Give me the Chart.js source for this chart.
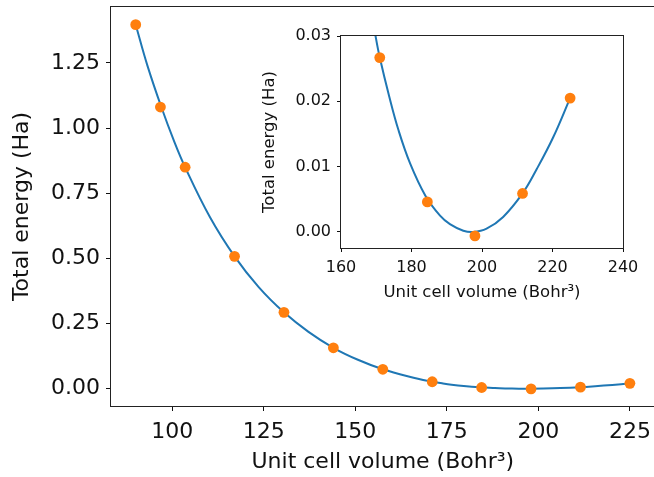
<!DOCTYPE html>
<html>
<head>
<meta charset="utf-8">
<script src="https://cdn.jsdelivr.net/npm/chart.js@4.4.1/dist/chart.umd.min.js"></script>
<style>
  html, body { margin: 0; padding: 0; background: #fff; overflow: hidden; width: 654px; height: 477px; }
  #main { position: absolute; left: 0; top: 0; }
  #inset { position: absolute; left: 250px; top: 0; }
</style>
</head>
<body>
<canvas id="main" width="660" height="477"></canvas>
<canvas id="inset" width="404" height="320"></canvas>
<script>
// ---- data ----
const volumes = [90, 96.75, 103.5, 117, 130.5, 144, 157.5, 171, 184.5, 198, 211.5, 225];
const energies = [1.397, 1.081, 0.850, 0.508, 0.293, 0.157, 0.0745, 0.0267, 0.0046, -0.0006, 0.0059, 0.0205];

const fitVolumes = [90, 93.2, 97, 100.4, 103.5, 110.3, 117, 123.6, 130.5, 137.2, 144, 150.7, 157.5, 165.9, 169.8, 171, 173.7, 176.3, 179.6, 183.9, 188.1, 190.9, 194.7, 197.5, 201.3, 206.0, 211.5, 215.5, 220.2, 225];
const fitEnergies = [1.397, 1.240, 1.081, 0.953, 0.850, 0.658, 0.508, 0.390, 0.293, 0.218, 0.157, 0.111, 0.0745, 0.042, 0.030, 0.0267, 0.0207, 0.0156, 0.0105, 0.0056, 0.0025, 0.0012, 0.0002, 0.0000, 0.0005, 0.0023, 0.0059, 0.0096, 0.0145, 0.0205];

const mainXTicks = [100, 125, 150, 175, 200, 225];
const mainYTicks = [0, 0.25, 0.5, 0.75, 1.0, 1.25];
const insetXTicks = [160, 180, 200, 220, 240];
const insetYTicks = [0, 0.01, 0.02, 0.03];

const xTitle = 'Unit cell volume (Bohr\u00B3)';
const yTitle = 'Total energy (Ha)';

// ---- helpers ----
const FONT = "'DejaVu Sans', sans-serif";
const TXT = '#111';

function pts(xs, ys) { return xs.map((x, i) => ({ x: x, y: ys[i] })); }

const boxPlugin = {
  id: 'box',
  afterDraw(chart) {
    const a = chart.chartArea, c = chart.ctx;
    c.save();
    c.strokeStyle = '#222';
    c.lineWidth = 1;
    c.strokeRect(Math.round(a.left) - 0.5, Math.round(a.top) - 0.5,
                 Math.round(a.right - a.left) + 1, Math.round(a.bottom - a.top) + 1);
    c.restore();
  }
};

function makeChart(canvasId, cfg) {
  const fixW = cfg.yWidth, fixH = cfg.xHeight;
  return new Chart(document.getElementById(canvasId), {
    type: 'scatter',
    data: {
      datasets: [
        {
          data: pts(volumes, energies),
          showLine: false,
          pointRadius: 5.4,
          pointHoverRadius: 5.4,
          pointBackgroundColor: '#ff7f0e',
          pointBorderColor: '#ff7f0e',
          pointBorderWidth: 0,
          order: 0
        },
        {
          data: pts(fitVolumes, fitEnergies),
          showLine: true,
          borderColor: '#1f77b4',
          borderWidth: 2,
          pointRadius: 0,
          tension: 0.4,
          capBezierPoints: false,
          order: 1
        }
      ]
    },
    options: {
      responsive: false,
      animation: false,
      devicePixelRatio: 1,
      events: [],
      layout: { padding: cfg.padding },
      plugins: { legend: { display: false }, tooltip: { enabled: false } },
      scales: {
        x: {
          type: 'linear',
          min: cfg.xmin, max: cfg.xmax,
          border: { display: false },
          grid: { drawOnChartArea: false, drawTicks: true, tickLength: cfg.tickLen, color: '#111', lineWidth: 1 },
          ticks: {
            color: TXT, font: { family: FONT, size: cfg.tickSize }, padding: cfg.xTickPad,
            maxRotation: 0, autoSkip: false,
            callback: v => String(Math.round(v))
          },
          afterBuildTicks: s => { s.ticks = cfg.xTicks.map(v => ({ value: v })); },
          afterFit: s => { s.height = fixH; s.paddingLeft = 0; s.paddingRight = 0; },
          title: {
            display: true, text: xTitle, color: TXT,
            font: { family: FONT, size: cfg.titleSize },
            padding: { top: 0, bottom: cfg.xTitlePad }
          }
        },
        y: {
          type: 'linear',
          min: cfg.ymin, max: cfg.ymax,
          border: { display: false },
          grid: { drawOnChartArea: false, drawTicks: true, tickLength: cfg.tickLen, color: '#111', lineWidth: 1 },
          ticks: {
            color: TXT, font: { family: FONT, size: cfg.tickSize }, padding: cfg.yTickPad,
            autoSkip: false,
            callback: v => Number(v).toFixed(2)
          },
          afterBuildTicks: s => { s.ticks = cfg.yTicks.map(v => ({ value: v })); },
          afterFit: s => { s.width = fixW; s.paddingTop = 0; s.paddingBottom = 0; },
          title: {
            display: true, text: yTitle, color: TXT,
            font: { family: FONT, size: cfg.titleSize },
            padding: { top: cfg.yTitlePad, bottom: 0 }
          }
        }
      }
    },
    plugins: [boxPlugin]
  });
}

// main axes: plot area 111..659 x 7..406
makeChart('main', {
  yWidth: 111, xHeight: 71,
  padding: { left: 0, right: 1, top: 7, bottom: 0 },
  xmin: 83.25, xmax: 231.75, ymin: -0.0664, ymax: 1.4649,
  xTicks: mainXTicks, yTicks: mainYTicks,
  tickLen: 5, tickSize: 22, titleSize: 22,
  xTickPad: 8, yTickPad: 6, xTitlePad: 2, yTitlePad: 9
});

// inset axes: plot area 341..623 x 36..248 (page coords)
makeChart('inset', {
  yWidth: 91, xHeight: 72,
  padding: { left: 0, right: 31, top: 36, bottom: 0 },
  xmin: 160, xmax: 240, ymin: -0.00245, ymax: 0.03,
  xTicks: insetXTicks, yTicks: insetYTicks,
  tickLen: 4, tickSize: 16, titleSize: 16.5,
  xTickPad: 6, yTickPad: 6, xTitlePad: 17, yTitlePad: 10
});
</script>
</body>
</html>
